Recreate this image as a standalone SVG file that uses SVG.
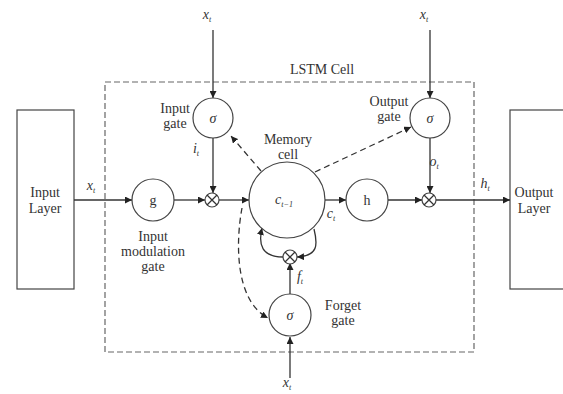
<svg xmlns="http://www.w3.org/2000/svg" width="563" height="394" viewBox="0 0 563 394" font-family="'Liberation Serif', 'DejaVu Serif', serif">
<defs>
<marker id="ah" viewBox="0 0 10 10" refX="10" refY="5" markerWidth="7" markerHeight="7" orient="auto" markerUnits="userSpaceOnUse">
<path d="M0,0 L10,5 L0,10 z" fill="#222"/>
</marker>
<style>
text{font-family:'Liberation Serif','DejaVu Serif',serif;fill:#333;font-size:14px;text-anchor:middle}
.it{font-style:italic}
.sub{font-size:8px;font-style:italic}
.n{fill:#fff;stroke:#444;stroke-width:1.2}
.c{fill:none;stroke:#333;stroke-width:1.3}
.d{fill:none;stroke:#333;stroke-width:1.3;stroke-dasharray:6,4}
.box{fill:none;stroke:#666;stroke-width:1.2;stroke-dasharray:6,3}
</style>
</defs>
<rect width="563" height="394" fill="#fff"/>

<g id="lstm-cell">
<rect class="box" x="105" y="82" width="369" height="270"/>
<text x="322" y="74">LSTM Cell</text>
</g>

<g id="input-layer">
<rect class="n" x="17" y="110" width="57" height="179"/>
<text x="45" y="197">Input</text>
<text x="45" y="213">Layer</text>
</g>
<g id="output-layer">
<rect class="n" x="510" y="110" width="70" height="179"/>
<text x="534" y="197">Output</text>
<text x="534" y="213">Layer</text>
</g>

<g id="connectors">
<line class="c" x1="74" y1="200" x2="132" y2="200" marker-end="url(#ah)"/>
<line class="c" x1="174" y1="200" x2="205" y2="200" marker-end="url(#ah)"/>
<line class="c" x1="219" y1="200" x2="249" y2="200" marker-end="url(#ah)"/>
<line class="c" x1="325" y1="200" x2="346" y2="200" marker-end="url(#ah)"/>
<line class="c" x1="388" y1="200" x2="422" y2="200" marker-end="url(#ah)"/>
<line class="c" x1="436" y1="200" x2="510" y2="200" marker-end="url(#ah)"/>
<line class="c" x1="213" y1="30" x2="213" y2="98" marker-end="url(#ah)"/>
<line class="c" x1="430" y1="30" x2="430" y2="98" marker-end="url(#ah)"/>
<line class="c" x1="213" y1="138" x2="213" y2="193" marker-end="url(#ah)"/>
<line class="c" x1="430" y1="138" x2="430" y2="193" marker-end="url(#ah)"/>
<line class="c" x1="290" y1="294" x2="290" y2="263" marker-end="url(#ah)"/>
<line class="c" x1="290" y1="378" x2="290" y2="337" marker-end="url(#ah)"/>
<path class="c" d="M314,229 C318,245 318,256 297,257" marker-end="url(#ah)"/>
<path class="c" d="M283,257 C262,257 258,245 262,228" marker-end="url(#ah)"/>
<line class="d" x1="261" y1="171" x2="231" y2="136" marker-end="url(#ah)"/>
<line class="d" x1="315" y1="172" x2="411" y2="127" marker-end="url(#ah)"/>
<path class="d" d="M242,208 C236,240 234,300 268,318" marker-end="url(#ah)"/>
</g>

<g id="input-gate">
<circle class="n" cx="213" cy="118" r="20"/>
<text class="it" x="213" y="123">σ</text>
<text x="175" y="113">Input</text>
<text x="175" y="128">gate</text>
</g>
<g id="output-gate">
<circle class="n" cx="430" cy="118" r="20"/>
<text class="it" x="430" y="123">σ</text>
<text x="389" y="106">Output</text>
<text x="389" y="121">gate</text>
</g>
<g id="g-node">
<circle class="n" cx="153" cy="200" r="21"/>
<text x="153" y="205">g</text>
<text x="153" y="241">Input</text>
<text x="153" y="256">modulation</text>
<text x="153" y="271">gate</text>
</g>
<g id="mult-input">
<circle class="n" cx="212" cy="200" r="7"/>
<path class="c" d="M207,195 L217,205 M217,195 L207,205" stroke-width="1"/>
</g>
<g id="memory-cell">
<circle class="n" cx="287" cy="200" r="38"/>
<text class="it" x="284" y="204">c<tspan class="sub" dy="3">t−1</tspan></text>
<text x="288" y="144">Memory</text>
<text x="288" y="159">cell</text>
</g>
<g id="h-node">
<circle class="n" cx="367" cy="200" r="21"/>
<text x="367" y="205">h</text>
</g>
<g id="mult-output">
<circle class="n" cx="429" cy="200" r="7"/>
<path class="c" d="M424,195 L434,205 M434,195 L424,205" stroke-width="1"/>
</g>
<g id="mult-forget">
<circle class="n" cx="290" cy="257" r="7"/>
<path class="c" d="M285,252 L295,262 M295,252 L285,262" stroke-width="1"/>
</g>
<g id="forget-gate">
<circle class="n" cx="290" cy="315" r="21"/>
<text class="it" x="290" y="320">σ</text>
<text x="343" y="310">Forget</text>
<text x="343" y="325">gate</text>
</g>

<g id="labels">
<text class="it" x="207" y="19">x<tspan class="sub" dy="3">t</tspan></text>
<text class="it" x="424" y="19">x<tspan class="sub" dy="3">t</tspan></text>
<text class="it" x="287" y="387">x<tspan class="sub" dy="3">t</tspan></text>
<text class="it" x="91" y="190">x<tspan class="sub" dy="3">t</tspan></text>
<text class="it" x="196" y="153">i<tspan class="sub" dy="3">t</tspan></text>
<text class="it" x="434" y="166">o<tspan class="sub" dy="3">t</tspan></text>
<text class="it" x="331" y="218">c<tspan class="sub" dy="3">t</tspan></text>
<text class="it" x="485" y="188">h<tspan class="sub" dy="3">t</tspan></text>
<text class="it" x="300" y="281">f<tspan class="sub" dy="3">t</tspan></text>
</g>
</svg>
